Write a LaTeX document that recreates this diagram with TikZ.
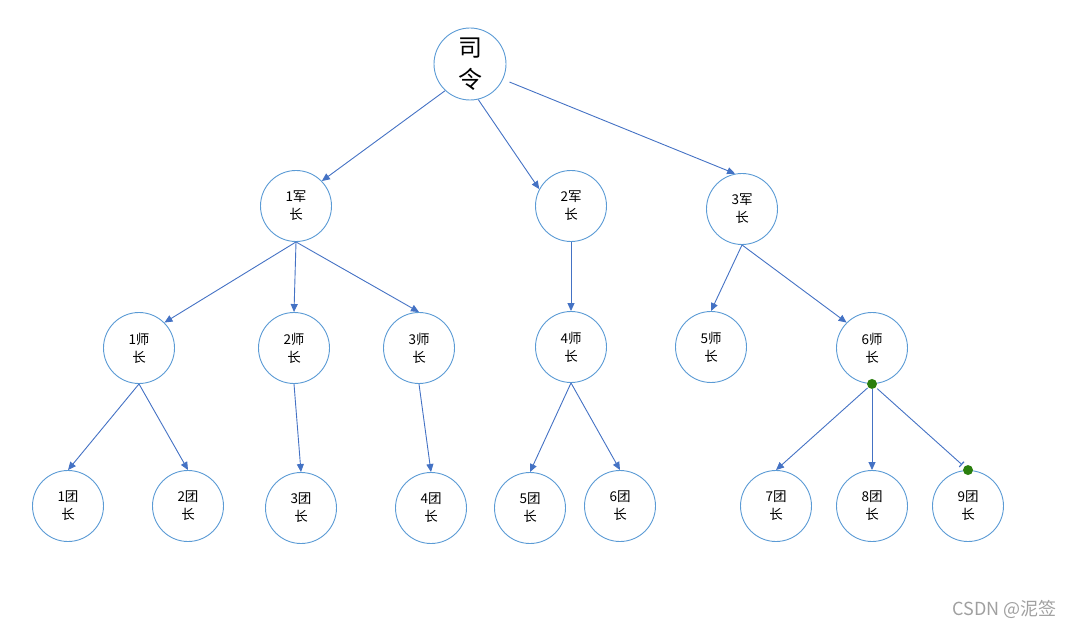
\documentclass[tikz,border=0pt]{standalone}
\usepackage{fontspec}
\setmainfont{Noto Sans CJK SC}
\usetikzlibrary{arrows.meta}
\definecolor{edgeblue}{HTML}{4472C4}
\definecolor{ringblue}{HTML}{5B9BD5}
\definecolor{dotgreen}{HTML}{2A7F0E}
\definecolor{wmgray}{HTML}{A0A0A0}
\tikzset{
  person/.style={circle,draw=ringblue,line width=0.9pt,minimum size=71pt,inner sep=0pt,
    align=center,font=\fontsize{13.5}{18}\selectfont,fill=white},
  chief/.style={person,minimum size=72pt,font=\fontsize{24}{32}\selectfont},
  link/.style={draw=edgeblue,line width=0.9pt,-{Triangle[length=8pt,width=7pt]}},
  barlink/.style={draw=edgeblue,line width=0.9pt,-{Bar[width=7pt,line width=1.2pt]}},
  gdot/.style={circle,fill=dotgreen,inner sep=0pt,minimum size=10pt},
}
\begin{document}
\begin{tikzpicture}[x=1pt,y=-1pt]
\useasboundingbox (0,0) rectangle (1074,628);
% nodes
\node[chief] (sl) at (470,64) {司\\令};
\node[person] (j1) at (296,206) {1军\\长};
\node[person] (j2) at (571,206) {2军\\长};
\node[person] (j3) at (742,209) {3军\\长};
\node[person] (s1) at (139,348) {1师\\长};
\node[person] (s2) at (294,348) {2师\\长};
\node[person] (s3) at (419,348) {3师\\长};
\node[person] (s4) at (571,347) {4师\\长};
\node[person] (s5) at (711,347) {5师\\长};
\node[person] (s6) at (872,348) {6师\\长};
\node[person] (t1) at (68,506) {1团\\长};
\node[person] (t2) at (188,506) {2团\\长};
\node[person] (t3) at (301,508) {3团\\长};
\node[person] (t4) at (431,508) {4团\\长};
\node[person] (t5) at (530,508) {5团\\长};
\node[person] (t6) at (620,506) {6团\\长};
\node[person] (t7) at (776,506) {7团\\长};
\node[person] (t8) at (872,506) {8团\\长};
\node[person] (t9) at (968,506) {9团\\长};
% edges
\draw[link] (sl.227) -- (j1.44);
\draw[link] (sl.283) -- (j2.152);
\draw[link,shorten <=7pt] (sl.335) -- (j3.101);
\draw[link] (j1.south) -- (s1.45);
\draw[link] (j1.south) -- (s2.north);
\draw[link] (j1.south) -- (s3.north);
\draw[link] (j2.south) -- (s4.north);
\draw[link] (j3.south) -- (s5.north);
\draw[link] (j3.south) -- (s6.135);
\draw[link] (s1.south) -- (t1.north);
\draw[link] (s1.south) -- (t2.north);
\draw[link] (s2.south) -- (t3.north);
\draw[link] (s3.south) -- (t4.north);
\draw[link] (s4.south) -- (t5.north);
\draw[link] (s4.south) -- (t6.north);
% green connection dots
\node[gdot] (d6) at (s6.south) {};
\node[gdot] (d9) at (t9.north) {};
\draw[link,shorten <=6pt] (d6.center) -- (t7.north);
\draw[link,shorten <=5pt] (d6.center) -- (t8.north);
\draw[barlink,shorten <=7pt,shorten >=8pt] (d6.center) -- (d9.center);
% watermark
\node[text=wmgray,font=\fontsize{18}{20}\selectfont,anchor=east] (wm) at (1060,609) {CSDN @泥签};
\end{tikzpicture}
\end{document}
